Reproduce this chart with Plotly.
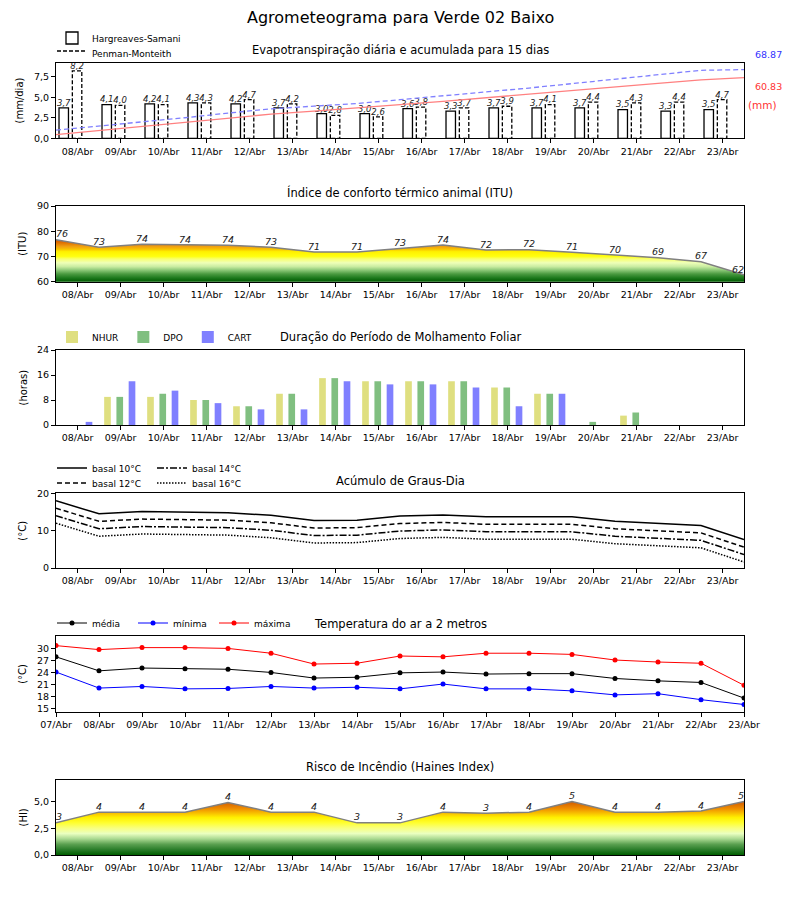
import numpy as np
import plotly.graph_objects as go

# ---------------- data ----------------
days_all = ["07/Abr", "08/Abr", "09/Abr", "10/Abr", "11/Abr", "12/Abr", "13/Abr", "14/Abr",
            "15/Abr", "16/Abr", "17/Abr", "18/Abr", "19/Abr", "20/Abr", "21/Abr", "22/Abr", "23/Abr"]
days_fc = days_all[1:]

# Evapotranspiration (mm/dia)
et_hs = [3.7, 4.1, 4.2, 4.3, 4.2, 3.7, 3.0, 3.0, 3.6, 3.3, 3.7, 3.7, 3.7, 3.5, 3.3, 3.5]
et_pm = [8.2, 4.0, 4.1, 4.3, 4.7, 4.2, 2.8, 2.6, 3.8, 3.7, 3.9, 4.1, 4.4, 4.3, 4.4, 4.7]
# accumulated (mm)
et_hs_acc = [3.7, 7.8, 12.0, 16.3, 20.5, 24.2, 27.2, 30.2, 33.8, 37.1, 40.8, 44.5, 48.2, 51.7, 55.0, 58.5, 60.83]
et_pm_acc = [8.2, 12.2, 16.3, 20.6, 25.3, 29.5, 32.3, 34.9, 38.7, 42.4, 46.3, 50.4, 54.8, 59.1, 63.5, 68.2, 68.87]
et_hs_total = "60.83"
et_pm_total = "68.87"

# ITU
itu = [76.6, 73.7, 74.8, 74.5, 74.4, 73.7, 71.8, 71.8, 73.3, 74.5, 72.6, 72.7, 71.7, 70.6, 69.5, 67.9, 62.7]

# Leaf wetness (horas)
nhur = [0, 9, 9, 8, 6, 10, 15, 14, 14, 14, 12, 10, 0, 3, 0, 0]
dpo = [0, 9, 10, 8, 6, 10, 15, 14, 14, 14, 12, 10, 1, 4, 0, 0]
cart = [1, 14, 11, 7, 5, 5, 14, 13, 13, 12, 6, 10, 0, 0, 0, 0]

# Degree-days (°C)
gd10 = [18.0, 14.5, 15.1, 14.9, 14.8, 14.1, 12.7, 12.8, 13.9, 14.2, 13.7, 13.7, 13.7, 12.5, 11.9, 11.4, 7.6]
gd12 = [16.0, 12.5, 13.1, 12.9, 12.8, 12.1, 10.7, 10.8, 11.9, 12.2, 11.7, 11.7, 11.7, 10.5, 9.9, 9.4, 5.6]
gd14 = [14.0, 10.5, 11.1, 10.9, 10.8, 10.1, 8.7, 8.8, 9.9, 10.2, 9.7, 9.7, 9.7, 8.5, 7.9, 7.4, 3.6]
gd16 = [12.0, 8.5, 9.1, 8.9, 8.8, 8.1, 6.7, 6.8, 7.9, 8.2, 7.7, 7.7, 7.7, 6.5, 5.9, 5.4, 1.6]

# Temperature (°C)
t_med = [27.9, 24.4, 25.1, 24.9, 24.8, 24.0, 22.6, 22.8, 23.9, 24.1, 23.6, 23.7, 23.7, 22.5, 21.9, 21.5, 17.6]
t_min = [24.1, 20.1, 20.5, 19.9, 20.0, 20.5, 20.1, 20.3, 19.9, 21.1, 19.9, 19.9, 19.4, 18.4, 18.7, 17.2, 16.0]
t_max = [30.7, 29.7, 30.2, 30.2, 30.0, 28.8, 26.1, 26.3, 28.1, 27.9, 28.8, 28.8, 28.5, 27.1, 26.6, 26.3, 20.8]

# Haines index
haines = [3.0, 4.0, 4.0, 4.0, 4.9, 4.0, 4.0, 3.0, 3.0, 4.0, 3.9, 4.0, 5.0, 4.0, 4.0, 4.1, 5.0]

# ---------------- layout helpers ----------------
W, H = 800, 900
OFF = 8  # page body margin in the browser
FONT = "DejaVu Sans"
x_pts = np.arange(len(days_all))            # 07/Abr .. 23/Abr
x_mid = np.arange(len(days_fc)) + 0.5       # forecast-day centres


def py(p):
    return 1 - (p - OFF) / H


def px(p):
    return (p - OFF) / W


def dom(top, bottom):
    return [py(bottom), py(top)]


panels = [(62.7, 138.3), (206, 281.7), (350, 425), (493.3, 568), (636, 711.7), (780, 855)]
XDOM = [px(56), px(744)]

fig = go.Figure()

# ---- Panel 1: ET ----
fig.add_trace(go.Bar(x=x_mid, y=et_hs, width=0.22, offset=-0.43,
                     marker=dict(color="white", line=dict(color="black", width=1.3)),
                     name="Hargreaves-Samani", xaxis="x", yaxis="y", legend="legend"))
pm_x, pm_y = [], []
for xc, v in zip(x_mid, et_pm):
    x0, x1 = xc - 0.12, xc + 0.10
    pm_x += [x0, x0, x1, x1, x0, None]
    pm_y += [0, v, v, 0, 0, None]
fig.add_trace(go.Scatter(x=pm_x, y=pm_y, mode="lines", fill="toself", fillcolor="white",
                         line=dict(color="black", width=1.3, dash="4px,2px"),
                         name="Penman-Monteith", xaxis="x", yaxis="y", legend="legend6"))
fig.add_trace(go.Scatter(x=x_pts, y=et_hs_acc, mode="lines", line=dict(color="#ff8080", width=1.3),
                         showlegend=False, xaxis="x", yaxis="y7"))
fig.add_trace(go.Scatter(x=x_pts, y=et_pm_acc, mode="lines", line=dict(color="#8080ff", width=1.3, dash="5px,3px"),
                         showlegend=False, xaxis="x", yaxis="y7"))
lab = lambda v: f"{v:.1f}".replace(".", ",")
fig.add_trace(go.Scatter(x=x_mid - 0.32, y=et_hs, mode="text", text=[lab(v) for v in et_hs],
                         textposition="top center",
                         textfont=dict(family=FONT, size=8.5, color="#222", style="italic"),
                         showlegend=False, xaxis="x", yaxis="y"))
fig.add_trace(go.Scatter(x=x_mid - 0.01, y=et_pm, mode="text", text=[lab(v) for v in et_pm],
                         textposition="top center",
                         textfont=dict(family=FONT, size=8.5, color="#222", style="italic"),
                         showlegend=False, xaxis="x", yaxis="y"))

# ---- Panel 2: ITU ----
itu_scale = [[0.0, "#005a00"], [0.09, "#1e7a1e"], [0.18, "#4a9a40"], [0.27, "#8cc878"],
             [0.35, "#c8eca0"], [0.44, "#eeffb8"], [0.53, "#f8ff70"], [0.59, "#ffff10"],
             [0.70, "#fff000"], [0.76, "#f8c000"], [0.82, "#f0a010"], [0.91, "#e07000"],
             [1.0, "#d05000"]]
fig.add_trace(go.Scatter(x=x_pts, y=itu, mode="lines", fill="tozeroy",
                         fillgradient=dict(type="vertical", colorscale=itu_scale, start=60, stop=77),
                         line=dict(color="#808080", width=1.5), showlegend=False,
                         xaxis="x2", yaxis="y2"))
pos = ["top center"] * len(itu)
pos[0] = "top right"
pos[-1] = "top left"
fig.add_trace(go.Scatter(x=x_pts, y=itu, mode="text", text=[str(int(v)) for v in itu],
                         textposition=pos,
                         textfont=dict(family=FONT, size=9.5, color="#222", style="italic"),
                         showlegend=False, xaxis="x2", yaxis="y2"))

# ---- Panel 3: leaf wetness ----
fig.add_trace(go.Bar(x=x_mid, y=nhur, width=0.155, offset=-0.38, marker=dict(color="#dfdf80", line=dict(width=0)),
                     name="NHUR", xaxis="x3", yaxis="y3", legend="legend2"))
fig.add_trace(go.Bar(x=x_mid, y=dpo, width=0.155, offset=-0.095, marker=dict(color="#80bf80", line=dict(width=0)),
                     name="DPO", xaxis="x3", yaxis="y3", legend="legend2"))
fig.add_trace(go.Bar(x=x_mid, y=cart, width=0.155, offset=0.19, marker=dict(color="#8080ff", line=dict(width=0)),
                     name="CART", xaxis="x3", yaxis="y3", legend="legend2"))

# ---- Panel 4: degree-days ----
for arr, nm, dash, lg in [(gd10, "basal 10°C", "solid", "legend3"), (gd12, "basal 12°C", "5px,3px", "legend7"),
                          (gd14, "basal 14°C", "7px,2px,2px,2px", "legend4"), (gd16, "basal 16°C", "1.5px,1.5px", "legend8")]:
    fig.add_trace(go.Scatter(x=x_pts, y=arr, mode="lines", line=dict(color="black", width=1.5, dash=dash),
                             name=nm, xaxis="x4", yaxis="y4", legend=lg))

# ---- Panel 5: temperature ----
for arr, nm, col in [(t_med, "média", "black"), (t_min, "mínima", "blue"), (t_max, "máxima", "red")]:
    fig.add_trace(go.Scatter(x=x_pts, y=arr, mode="lines+markers", line=dict(color=col, width=1),
                             marker=dict(color=col, size=5), name=nm, xaxis="x5", yaxis="y5",
                             legend="legend5"))

# ---- Panel 6: Haines ----
hi_scale = [[0.0, "#005e00"], [0.1, "#2a7d2a"], [0.2, "#5aa050"], [0.3, "#a8d890"],
            [0.4, "#eaffc0"], [0.5, "#f8ff80"], [0.6, "#ffff30"], [0.7, "#fff000"],
            [0.78, "#f8c000"], [0.86, "#f09000"], [1.0, "#d05800"]]
fig.add_trace(go.Scatter(x=x_pts, y=haines, mode="lines", fill="tozeroy",
                         fillgradient=dict(type="vertical", colorscale=hi_scale, start=0, stop=5),
                         line=dict(color="#808080", width=1.5), showlegend=False,
                         xaxis="x6", yaxis="y6"))
fig.add_trace(go.Scatter(x=x_pts, y=haines, mode="text", text=[str(int(v)) for v in haines],
                         textposition=pos,
                         textfont=dict(family=FONT, size=9.5, color="#222", style="italic"),
                         showlegend=False, xaxis="x6", yaxis="y6"))

# ---------------- axes ----------------
axis_common = dict(showline=True, mirror=True, linecolor="black", linewidth=1, showgrid=False,
                   zeroline=False, ticks="outside", ticklen=4, tickcolor="black", automargin=False,
                   tickfont=dict(family=FONT, size=9.5, color="black"))
layout = {}
y_specs = [
    dict(range=[0, 9.2], tickvals=[0, 2.5, 5, 7.5], tickformat=".1f"),
    dict(range=[60, 90], tickvals=[60, 70, 80, 90]),
    dict(range=[0, 24], tickvals=[0, 8, 16, 24]),
    dict(range=[0, 20], tickvals=[0, 10, 20]),
    dict(range=[14.2, 33.1], tickvals=[15, 18, 21, 24, 27, 30]),
    dict(range=[0, 7], tickvals=[0, 2.5, 5], tickformat=".1f"),
]
for i, (top, bot) in enumerate(panels):
    n = "" if i == 0 else str(i + 1)
    if i == 4:
        xt = dict(tickvals=list(x_pts), ticktext=days_all)
    else:
        xt = dict(tickvals=list(x_mid), ticktext=days_fc)
    layout["xaxis" + n] = dict(domain=XDOM, anchor="y" + n, range=[0, 16], **xt, **axis_common)
    layout["yaxis" + n] = dict(domain=dom(top, bot), anchor="x" + n, **y_specs[i], **axis_common)
layout["yaxis7"] = dict(overlaying="y", anchor="x", range=[0, 75.8], visible=False, automargin=False)

# ---------------- annotations ----------------
ann = []
titles = [("Evapotranspiração diária e acumulada para 15 dias", 50),
          ("Índice de conforto térmico animal (ITU)", 193),
          ("Duração do Período de Molhamento Foliar", 337),
          ("Acúmulo de Graus-Dia", 481),
          ("Temperatura do ar a 2 metros", 624),
          ("Risco de Incêndio (Haines Index)", 767)]
for t, yp in titles:
    ann.append(dict(text=t, x=px(400), y=py(yp), xref="paper", yref="paper", showarrow=False,
                    xanchor="center", yanchor="middle", font=dict(family=FONT, size=11.5, color="black")))
ann.append(dict(text="Agrometeograma para Verde 02 Baixo", x=px(400), y=py(17), xref="paper", yref="paper",
                showarrow=False, xanchor="center", yanchor="middle", font=dict(family=FONT, size=16, color="black")))
ylabels = [("(mm/dia)", 19), ("(ITU)", 23), ("(horas)", 23), ("(°C)", 23), ("(°C)", 23), ("(HI)", 23)]
for (t, xp), (top, bot) in zip(ylabels, panels):
    ann.append(dict(text=t, x=px(xp), y=py((top + bot) / 2), xref="paper", yref="paper", showarrow=False,
                    textangle=-90, xanchor="center", yanchor="middle",
                    font=dict(family=FONT, size=10, color="black")))
ann.append(dict(text=et_pm_total, x=px(768), y=py(55), xref="paper", yref="paper", showarrow=False,
                xanchor="center", yanchor="middle", font=dict(family=FONT, size=9.5, color="#3333ff")))
ann.append(dict(text=et_hs_total, x=px(768), y=py(86.7), xref="paper", yref="paper", showarrow=False,
                xanchor="center", yanchor="middle", font=dict(family=FONT, size=9.5, color="#ff3333")))
ann.append(dict(text="(mm)", x=px(762), y=py(105), xref="paper", yref="paper", showarrow=False,
                xanchor="center", yanchor="middle", font=dict(family=FONT, size=10.5, color="#ff3333")))

leg_common = dict(bgcolor="rgba(0,0,0,0)", font=dict(family=FONT, size=9, color="black"),
                  xanchor="left", yanchor="middle", borderwidth=0)
layout.update(
    width=W, height=H, margin=dict(l=0, r=0, t=0, b=0, autoexpand=False),
    paper_bgcolor="white", plot_bgcolor="white", separators=",.",
    barmode="overlay", font=dict(family=FONT, size=10, color="black"),
    annotations=ann,
    legend=dict(x=px(52), y=py(38), orientation="v", **leg_common),
    legend6=dict(x=px(52), y=py(53), orientation="v", **leg_common),
    legend2=dict(x=px(52), y=py(337), orientation="h", **leg_common),
    legend3=dict(x=px(52), y=py(468), orientation="v", **leg_common),
    legend7=dict(x=px(52), y=py(483), orientation="v", **leg_common),
    legend4=dict(x=px(152), y=py(468), orientation="v", **leg_common),
    legend8=dict(x=px(152), y=py(483), orientation="v", **leg_common),
    legend5=dict(x=px(52), y=py(623), orientation="h", entrywidth=36, entrywidthmode="pixels", **leg_common),
)
fig.update_layout(**layout)
fig.write_html("out.html")
